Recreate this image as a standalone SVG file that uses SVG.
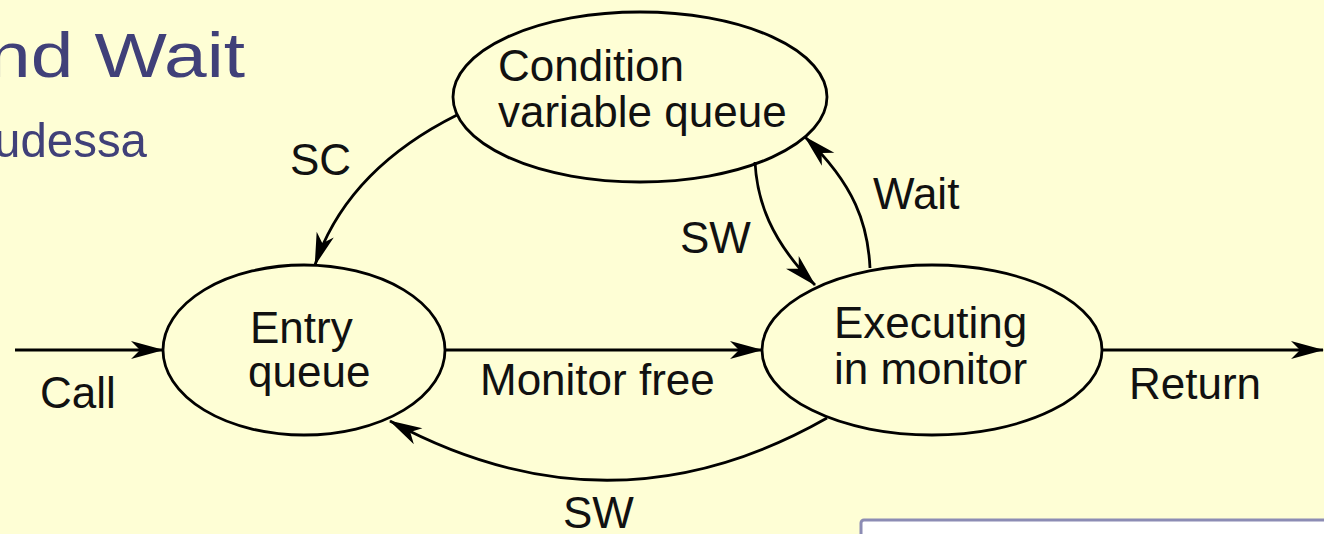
<svg xmlns="http://www.w3.org/2000/svg" width="1324" height="534" viewBox="0 0 1324 534">
  <style>
    .bg { fill: #FEFED5; }
    .node { fill: none; stroke: #000; stroke-width: 2.8; }
    .lbl { font-family: "Liberation Sans", Arial, sans-serif; font-size: 44px; fill: #111; }
    .edge { fill: none; stroke: #000; stroke-width: 2.8; marker-end: url(#ah); }
    .title { font-family: "Liberation Sans", Arial, sans-serif; fill: #404079; }
  </style>
  <defs>
    <marker id="ah" viewBox="-34 -11 36 22" refX="0" refY="0" markerWidth="36" markerHeight="22" orient="auto" markerUnits="userSpaceOnUse">
      <path d="M1,0 L-32,-9 L-23,0 L-32,9 Z" fill="#000"/>
    </marker>
  </defs>

  <rect class="bg" x="0" y="0" width="1324" height="534"/>

  <!-- slide heading fragments -->
  <g id="heading">
    <text class="title" x="-12" y="77" font-size="63" textLength="257" lengthAdjust="spacingAndGlyphs">nd Wait</text>
    <text class="title" x="-6" y="157" font-size="49" textLength="153" lengthAdjust="spacingAndGlyphs">udessa</text>
  </g>

  <!-- connectors -->
  <g id="connectors">
    <path class="edge" d="M15,350 L163,350"/>
    <path class="edge" d="M445,350 L762,350"/>
    <path class="edge" d="M1102,350 L1323,350"/>
    <path class="edge" d="M457,115 Q347,170 315,265"/>
    <path class="edge" d="M755,162 C757,200 770,240 815,285"/>
    <path class="edge" d="M870,268 C868,225 855,185 805,137"/>
    <path class="edge" d="M827,418 Q611,541 390,421"/>
  </g>

  <!-- connector labels -->
  <g id="edge-labels" class="lbl">
    <text x="40" y="408">Call</text>
    <text x="480" y="395">Monitor free</text>
    <text x="1129" y="399">Return</text>
    <text x="290" y="175">SC</text>
    <text x="680" y="253">SW</text>
    <text x="873" y="209">Wait</text>
    <text x="563" y="528">SW</text>
  </g>

  <g id="condition-queue">
    <ellipse class="node" cx="640" cy="97" rx="187" ry="85"/>
    <text class="lbl" x="498" y="81">Condition</text>
    <text class="lbl" x="498" y="127">variable queue</text>
  </g>

  <g id="entry-queue">
    <ellipse class="node" cx="304" cy="350" rx="141" ry="85"/>
    <text class="lbl" x="250" y="343">Entry</text>
    <text class="lbl" x="248" y="387">queue</text>
  </g>

  <g id="executing">
    <ellipse class="node" cx="932" cy="350" rx="170" ry="85"/>
    <text class="lbl" x="834" y="338">Executing</text>
    <text class="lbl" x="834" y="384">in monitor</text>
  </g>

  <!-- panel edge at lower right -->
  <rect x="861" y="520" width="480" height="40" rx="3" fill="#FFFFFF" stroke="#8C8CB4" stroke-width="3"/>
</svg>
